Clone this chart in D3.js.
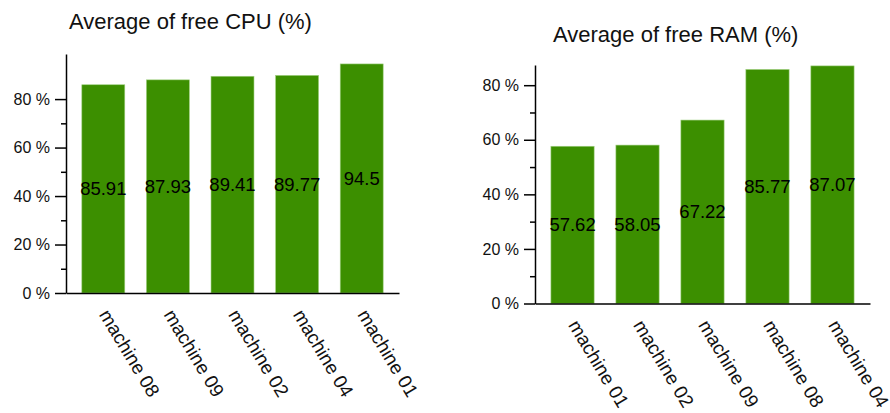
<!DOCTYPE html>
<html lang="en">
<head>
<meta charset="utf-8">
<title>Average of free CPU / RAM</title>
<script src="https://d3js.org/d3.v7.min.js"></script>
<style>
  body { margin: 0; background: #fff; font-family: "Liberation Sans", Arial, Helvetica, sans-serif; }
  .axis path, .axis line { stroke: #000; stroke-width: 1.5px; }
  .axis text { font-size: 16px; fill: #111; font-family: "Liberation Sans", Arial, sans-serif; }
</style>
</head>
<body>
<script>
// data
var cpuMachines = ["machine 08", "machine 09", "machine 02", "machine 04", "machine 01"];
var cpuValues = [85.91, 87.93, 89.41, 89.77, 94.5];
var ramMachines = ["machine 01", "machine 02", "machine 09", "machine 08", "machine 04"];
var ramValues = [57.62, 58.05, 67.22, 85.77, 87.07];
var majorTicks = [0, 20, 40, 60, 80];
var minorTicks = [10, 30, 50, 70];

var w = 890, h = 413;
var green = "#3c8f00";

var svg = d3.select("body").append("svg")
  .attr("width", w)
  .attr("height", h);

function drawChart(opt) {
  var g = svg.append("g").attr("transform", "translate(" + opt.left + "," + opt.top + ")");
  var innerW = opt.width, innerH = opt.height;

  var x = d3.scaleBand()
    .domain(opt.cats)
    .range([0, innerW])
    .paddingInner(0.335)
    .paddingOuter(0.245);

  var y = d3.scaleLinear()
    .domain([0, opt.yMax])
    .range([innerH, 0]);

  // title
  g.append("text")
    .attr("x", opt.titleX)
    .attr("y", opt.titleY)
    .attr("font-size", "22px")
    .attr("fill", "#111")
    .text(opt.title);

  // bars
  var data = opt.cats.map(function(c, i) { return { name: c, value: opt.values[i] }; });
  g.selectAll("rect.bar")
    .data(data)
    .enter()
    .append("rect")
    .attr("class", "bar")
    .attr("x", function(d) { return x(d.name); })
    .attr("y", function(d) { return y(d.value); })
    .attr("width", x.bandwidth())
    .attr("height", function(d) { return innerH - y(d.value); })
    .attr("fill", green)
    .attr("stroke", "#9fcf7f")
    .attr("stroke-width", 0.6);

  // value labels in the middle of each bar
  g.selectAll("text.val")
    .data(data)
    .enter()
    .append("text")
    .attr("class", "val")
    .attr("x", function(d) { return x(d.name) + x.bandwidth() / 2; })
    .attr("y", function(d) { return y(d.value / 2); })
    .attr("dy", "0.35em")
    .attr("text-anchor", "middle")
    .attr("font-size", "18.5px")
    .attr("fill", "#000")
    .text(function(d) { return d.value; });

  // minor y ticks
  g.append("g")
    .attr("class", "axis")
    .call(d3.axisLeft(y).tickValues(minorTicks).tickSize(5).tickSizeOuter(0).tickFormat(""))
    .select(".domain").remove();

  // y axis
  g.append("g")
    .attr("class", "axis")
    .call(d3.axisLeft(y).tickValues(majorTicks).tickSize(11).tickSizeOuter(0).tickPadding(5)
      .tickFormat(function(d) { return d + " %"; }));

  // x axis
  var xa = g.append("g")
    .attr("class", "axis")
    .attr("transform", "translate(0," + innerH + ")")
    .call(d3.axisBottom(x).tickSize(0).tickSizeOuter(0));

  // css would win over the attribute, so set it as a style
  xa.selectAll("text")
    .style("font-size", "19px")
    .attr("text-anchor", "start")
    .attr("transform", "translate(1,18) rotate(59)")
    .attr("dy", "0.35em")
    .attr("y", 0)
    .attr("x", 0);
}

drawChart({
  title: "Average of free CPU (%)",
  cats: cpuMachines,
  values: cpuValues,
  left: 66, top: 54, width: 333, height: 239,
  yMax: 98.6,
  titleX: 3, titleY: -25
});

drawChart({
  title: "Average of free RAM (%)",
  cats: ramMachines,
  values: ramValues,
  left: 535, top: 65, width: 335, height: 238.5,
  yMax: 87.4,
  titleX: 18, titleY: -23
});
</script>
</body>
</html>
